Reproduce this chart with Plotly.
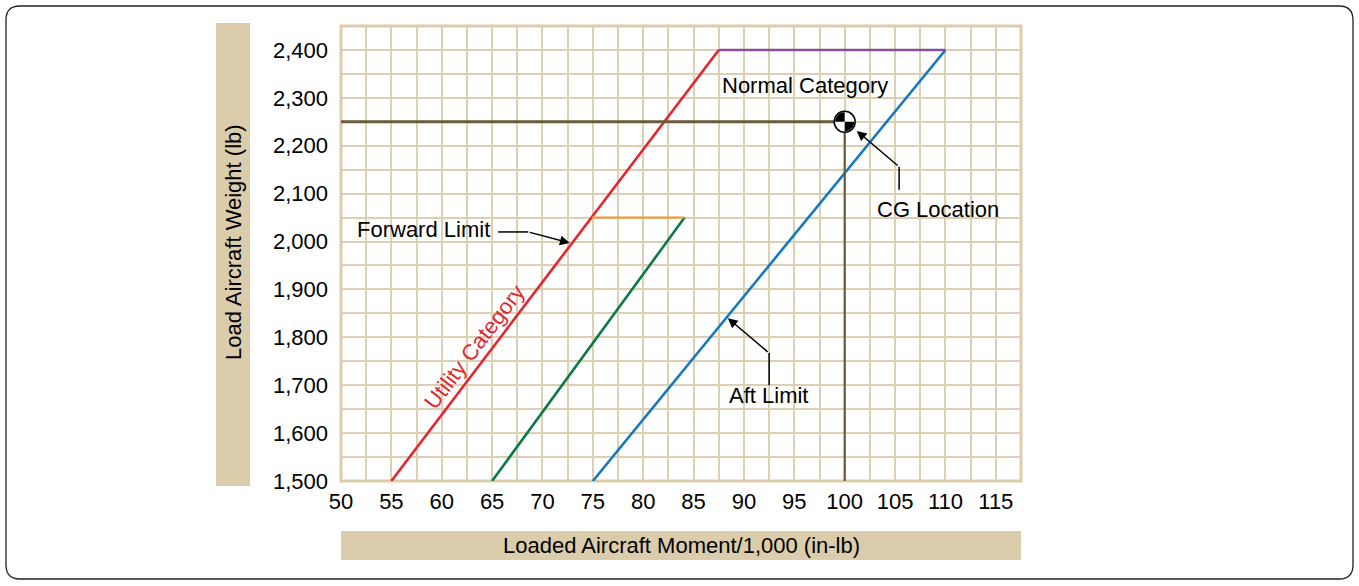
import numpy as np
import plotly.graph_objects as go

# envelope lines (moment/1000 in-lb, weight lb)
fwd_moment = [55, 87.5]
fwd_weight = [1500, 2400]
util_aft_moment = [65, 84.1]
util_aft_weight = [1500, 2050]
util_top_moment = [74.9, 84.1]
util_top_weight = [2050, 2050]
aft_moment = [75, 110]
aft_weight = [1500, 2400]
normal_top_moment = [87.5, 110]
normal_top_weight = [2400, 2400]

# CG location
cg_moment = [100]
cg_weight = [2250]

x_ticks = [50, 55, 60, 65, 70, 75, 80, 85, 90, 95, 100, 105, 110, 115]
y_ticks = [1500, 1600, 1700, 1800, 1900, 2000, 2100, 2200, 2300, 2400]

BEIGE = "#dbcdac"
GRID = "#ddd0b2"
FONT = "Liberation Sans, Arial, sans-serif"
FS = 22

W, H = 1359, 586
ML, MR, MT, MB = 341, 338, 26, 105
pw, ph = W - ML - MR, H - MT - MB


def px2paper(px, py):
    # page pixel -> paper fraction (for frame / bands only)
    return (px - ML) / pw, (H - MB - py) / ph


fig = go.Figure()

lines = [
    (fwd_moment, fwd_weight, "#e2262f", 2.6),
    (util_aft_moment, util_aft_weight, "#0b7a46", 2.6),
    (util_top_moment, util_top_weight, "#f0982f", 2),
    (aft_moment, aft_weight, "#1478bd", 2.6),
    (normal_top_moment, normal_top_weight, "#8a4c9d", 2.6),
]
for xs, ys, col, w in lines:
    fig.add_trace(go.Scatter(x=xs, y=ys, mode="lines",
                             line=dict(color=col, width=w), hoverinfo="skip"))

# CG reference lines
fig.add_trace(go.Scatter(x=[50, cg_moment[0]], y=[cg_weight[0], cg_weight[0]], mode="lines",
                         line=dict(color="#6b5a3b", width=3), hoverinfo="skip"))
fig.add_trace(go.Scatter(x=[cg_moment[0], cg_moment[0]], y=[1500, cg_weight[0]], mode="lines",
                         line=dict(color="#6b5a3b", width=2.2), hoverinfo="skip"))
fig.add_trace(go.Scatter(x=cg_moment, y=cg_weight, mode="markers",
                         marker=dict(symbol="circle", size=21, color="white",
                                     line=dict(color="black", width=1.5)),
                         hoverinfo="skip"))

# quartered CG symbol (pixel-sized wedges)
r = 9.5


def wedge(a0, a1):
    pts = ["M 0,0"]
    for a in np.linspace(a0, a1, 16):
        pts.append("L %.2f,%.2f" % (r * np.cos(a), r * np.sin(a)))
    return " ".join(pts) + " Z"


for a0, a1 in [(np.pi / 2, np.pi), (-np.pi / 2, 0)]:
    fig.add_shape(type="path", path=wedge(a0, a1), xref="x", yref="y",
                  xsizemode="pixel", ysizemode="pixel",
                  xanchor=cg_moment[0], yanchor=cg_weight[0],
                  fillcolor="black", line=dict(width=0), layer="above")

# plot border
fig.add_shape(type="rect", xref="paper", yref="paper", x0=0, x1=1, y0=0, y1=1,
              line=dict(color=BEIGE, width=3), layer="between")

# axis title bands
bx0, by0 = px2paper(216, 486)
bx1, by1 = px2paper(250, 23)
fig.add_shape(type="rect", xref="paper", yref="paper", x0=bx0, x1=bx1, y0=by0, y1=by1,
              fillcolor=BEIGE, line=dict(width=0))
tx0, ty0 = px2paper(341, 560)
tx1, ty1 = px2paper(1021, 531)
fig.add_shape(type="rect", xref="paper", yref="paper", x0=tx0, x1=tx1, y0=ty0, y1=ty1,
              fillcolor=BEIGE, line=dict(width=0))

# outer rounded frame
fx0, fy0, fx1, fy1, rr = 6, 6, 1353, 579, 14
corners = [
    ("M", fx0 + rr, fy0), ("L", fx1 - rr, fy0), ("Q", fx1, fy0, fx1, fy0 + rr),
    ("L", fx1, fy1 - rr), ("Q", fx1, fy1, fx1 - rr, fy1),
    ("L", fx0 + rr, fy1), ("Q", fx0, fy1, fx0, fy1 - rr),
    ("L", fx0, fy0 + rr), ("Q", fx0, fy0, fx0 + rr, fy0),
]
segs = []
for c in corners:
    cmd, coords = c[0], c[1:]
    pts = []
    for i in range(0, len(coords), 2):
        a, b = px2paper(coords[i], coords[i + 1])
        pts.append("%.5f,%.5f" % (a, b))
    segs.append(cmd + " " + " ".join(pts))
fig.add_shape(type="path", path=" ".join(segs) + " Z", xref="paper", yref="paper",
              line=dict(color="#222222", width=1.3))

# pointer elbows
fig.add_shape(type="line", x0=65.6, x1=68.6, y0=2020, y1=2020, line=dict(color="black", width=1.5))
fig.add_shape(type="line", x0=92.5, x1=92.5, y0=1700, y1=1767, line=dict(color="black", width=1.5))
fig.add_shape(type="line", x0=105.4, x1=105.4, y0=2108, y1=2156, line=dict(color="black", width=1.5))

arrow = dict(showarrow=True, arrowhead=2, arrowsize=1.3, arrowwidth=1.5, arrowcolor="black",
             axref="x", ayref="y", text="")
fig.add_annotation(x=72.7, y=1997, ax=68.6, ay=2020, **arrow)
fig.add_annotation(x=88.4, y=1840, ax=92.5, ay=1767, **arrow)
fig.add_annotation(x=101.2, y=2231, ax=105.4, ay=2156, **arrow)

txt = dict(showarrow=False, font=dict(family=FONT, size=FS, color="black"))
fig.add_annotation(x=87.6, y=2325, text="Normal Category", xanchor="left", **txt)
fig.add_annotation(x=109.3, y=2066, text="CG Location", **txt)
fig.add_annotation(x=65.0, y=2026, text="Forward Limit", xanchor="right", **txt)
fig.add_annotation(x=92.45, y=1678, text="Aft Limit", **txt)
fig.add_annotation(x=63.3, y=1780, text="Utility Category", textangle=-52.6, showarrow=False,
                   font=dict(family=FONT, size=FS, color="#e2262f"))

# axis titles
fig.add_annotation(x=(bx0 + bx1) / 2, y=px2paper(0, 242)[1], xref="paper", yref="paper",
                   xanchor="center", yanchor="middle",
                   text="Load Aircraft Weight (lb)", textangle=-90, **txt)
fig.add_annotation(x=0.5, y=(ty0 + ty1) / 2, xref="paper", yref="paper",
                   xanchor="center", yanchor="middle",
                   text="Loaded Aircraft Moment/1,000 (in-lb)", **txt)

fig.update_xaxes(range=[50, 117.5], tickvals=x_ticks, showgrid=True, gridcolor=GRID, gridwidth=1.6,
                 minor=dict(dtick=2.5, tick0=50, showgrid=True, gridcolor=GRID, gridwidth=1.6),
                 zeroline=False, showline=False, ticks="", ticklabelstandoff=5,
                 tickfont=dict(family=FONT, size=FS, color="black"), fixedrange=True)
fig.update_yaxes(range=[1500, 2450], tickvals=y_ticks, tickformat=",", showgrid=True,
                 gridcolor=GRID, gridwidth=1.6,
                 minor=dict(dtick=50, tick0=1500, showgrid=True, gridcolor=GRID, gridwidth=1.6),
                 zeroline=False, showline=False, ticks="", ticklabelstandoff=12,
                 tickfont=dict(family=FONT, size=FS, color="black"), fixedrange=True)

fig.update_layout(width=W, height=H, margin=dict(l=ML, r=MR, t=MT, b=MB),
                  plot_bgcolor="white", paper_bgcolor="white", showlegend=False,
                  font=dict(family=FONT))

# drop the page's default body margin so the figure sits at the window corner
fig.write_html("out.html", config={"displayModeBar": False},
               post_script="document.body.style.margin='0';")
